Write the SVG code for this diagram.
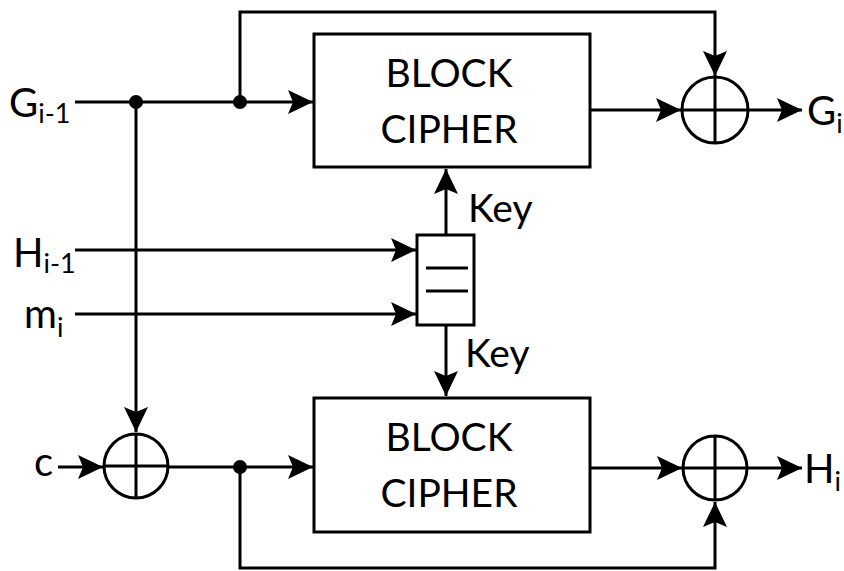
<svg xmlns="http://www.w3.org/2000/svg" width="844" height="571" viewBox="0 0 844 571">
<defs>
<marker id="ah" markerUnits="userSpaceOnUse" markerWidth="26" markerHeight="26" viewBox="0 0 26 26" refX="25" refY="13" orient="auto">
<path d="M0,1 L25,13 L0,25 L5,13 Z" fill="#000"/>
</marker>
</defs>
<style>
.w{fill:none;stroke:#000;stroke-width:3}
.a{fill:none;stroke:#000;stroke-width:3;marker-end:url(#ah)}
.box{fill:#fff;stroke:#000;stroke-width:3}
.t{font-family:Lato,"Open Sans",sans-serif;fill:#000}
.big{font-size:39px}
.lab{font-size:40px}
.sub{font-size:27px}
</style>
<g id="connectors">
<path class="a" d="M75,102 H313"/>
<path class="a" d="M240,102 V12 H715 V76"/>
<path class="a" d="M136,102 V432"/>
<path class="a" d="M75,250 H416"/>
<path class="a" d="M75,314 H416"/>
<path class="a" d="M446,235 V169"/>
<path class="a" d="M446,325 V396"/>
<path class="a" d="M590,110 H681"/>
<path class="a" d="M748,110 H802"/>
<path class="a" d="M58,467 H103"/>
<path class="a" d="M168,467 H313"/>
<path class="a" d="M240,467 V568 H715 V502"/>
<path class="a" d="M590,468 H682"/>
<path class="a" d="M747,468 H802"/>
<circle cx="136" cy="102" r="7"/>
<circle cx="240" cy="102" r="7"/>
<circle cx="240" cy="467" r="7"/>
</g>
<g id="cipher1">
<rect class="box" x="314" y="34" width="276" height="133"/>
<text class="t big" x="449" y="87" text-anchor="middle">BLOCK</text>
<text class="t big" x="449" y="143" text-anchor="middle">CIPHER</text>
</g>
<g id="cipher2">
<rect class="box" x="314" y="398" width="276" height="134"/>
<text class="t big" x="449" y="451" text-anchor="middle">BLOCK</text>
<text class="t big" x="449" y="507" text-anchor="middle">CIPHER</text>
</g>
<g id="mux">
<rect class="box" x="417" y="235" width="57" height="90"/>
<path class="w" d="M426,268 H468 M426,291 H468"/>
<text class="t big" x="468" y="222">Key</text>
<text class="t big" x="465" y="367">Key</text>
</g>
<g id="xor1">
<circle class="w" cx="715" cy="110" r="33"/>
<path class="w" d="M682,110 H748 M715,77 V143"/>
</g>
<g id="xor2">
<circle class="w" cx="136" cy="466" r="32"/>
<path class="w" d="M104,466 H168 M136,434 V498"/>
</g>
<g id="xor3">
<circle class="w" cx="715" cy="468" r="32"/>
<path class="w" d="M683,468 H747 M715,436 V500"/>
</g>
<g id="labels">
<text class="t lab" x="9" y="117">G<tspan class="sub" dy="6">i-1</tspan></text>
<text class="t lab" x="13" y="267">H<tspan class="sub" dy="6">i-1</tspan></text>
<text class="t lab" x="24" y="328">m<tspan class="sub" dy="9">i</tspan></text>
<text class="t lab" x="34" y="476">c</text>
<text class="t lab" x="807" y="125">G<tspan class="sub" dy="8">i</tspan></text>
<text class="t lab" x="804" y="483">H<tspan class="sub" dy="8">i</tspan></text>
</g>
</svg>
